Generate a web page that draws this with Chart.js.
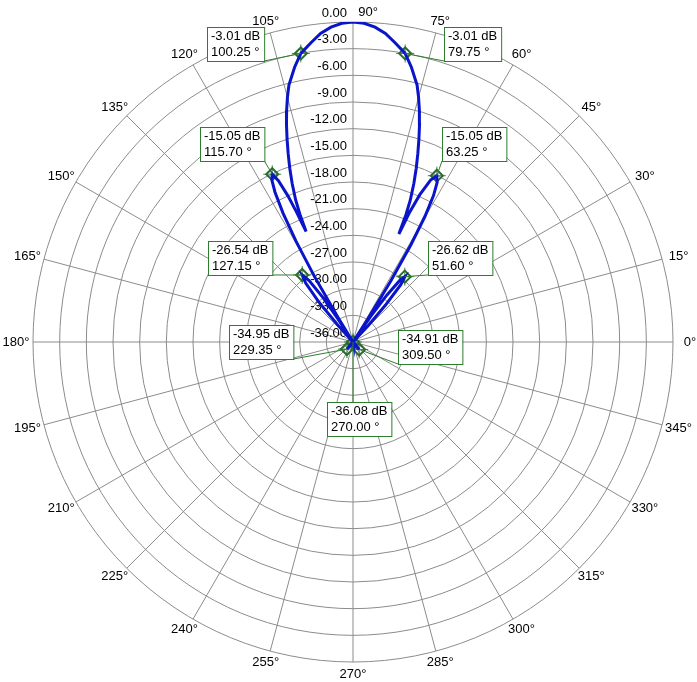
<!DOCTYPE html>
<html>
<head>
<meta charset="utf-8">
<script src="https://cdn.jsdelivr.net/npm/chart.js@4.4.1/dist/chart.umd.min.js"></script>
<style>
    body { margin: 0; background: #fff; }
    #wrap { width: 697px; height: 682px; position: relative; }
</style>
</head>
<body>
<div id="wrap"><canvas id="polar"></canvas></div>
<script>
// Pattern: angle (deg) and level (dB)
const patternAngles = [46, 47.2, 48.6, 50.2, 51.6, 52.8, 54.2, 55.4, 56.6, 57.2, 58.2, 59.2, 60.2, 61.2, 62.2, 63.25, 64.4, 65.6, 66.4, 67, 67.4, 68, 69, 70, 71, 72, 73, 74, 75, 76, 78, 79.75, 82, 84, 86, 88,
    90, 92, 94, 96, 98, 100.25, 102, 104, 105, 106, 107, 108, 109, 110, 111, 112, 112.6, 113, 113.5, 114, 114.8, 115.7, 116.6, 117.5, 118.5, 119.5, 120.5, 121.5, 122, 123, 124, 125.5, 127.15, 128.8, 130.5, 132, 133,
    150, 210, 222, 229.35, 236, 250, 270, 290, 302, 309.5, 317, 330, 406];
const patternDb = [-36, -33.5, -30.5, -27.6, -26.62, -27.3, -29.5, -32.5, -36, -33, -28, -23.3, -19.7, -17.2, -15.7, -15.05, -15.8, -17.8, -20, -22.8, -20.5, -18.8, -16.9, -15.2, -13.6, -12.0, -10.4, -8.9, -7.5, -6.2, -4.4, -3.01, -2.0, -1.1, -0.5, -0.12,
    0, -0.12, -0.5, -1.1, -2.0, -3.01, -4.4, -6.2, -7.5, -8.9, -10.4, -12.0, -13.6, -15.2, -16.9, -18.8, -20.5, -22.5, -20.0, -18.0, -16.0, -15.05, -15.6, -17.0, -19.5, -23, -27.5, -33, -36, -33, -30, -27.5, -26.54, -27.5, -30, -33.5, -36,
    -36, -36, -35.8, -34.95, -35.8, -36, -36.08, -36, -35.8, -34.91, -35.8, -36, -36];

// Markers
const markerAngles = [100.25, 79.75, 115.70, 63.25, 127.15, 51.60, 229.35, 309.50, 270.00];
const markerDb = [-3.01, -3.01, -15.05, -15.05, -26.54, -26.62, -34.95, -34.91, -36.08];
// where each marker's label box sits (top-left, px)
const boxPos = [[207, 27], [444, 27], [200, 127], [442, 127], [208, 241], [428, 241], [229, 325], [398, 330], [327, 402]];

const ringLabels = ['0.00', '-3.00', '-6.00', '-9.00', '-12.00', '-15.00', '-18.00', '-21.00', '-24.00', '-27.00', '-30.00', '-33.00', '-36.00'];
const angleTicks = [0, 15, 30, 45, 60, 75, 90, 105, 120, 135, 150, 165, 180, 195, 210, 225, 240, 255, 270, 285, 300, 315, 330, 345];

const FLOOR = -36;
const FONT = '13px "Liberation Sans", Arial, sans-serif';

function toXY(ang, db) {
    const r = Math.max(0, db - FLOOR);
    const a = ang * Math.PI / 180;
    return { x: r * Math.cos(a), y: r * Math.sin(a) };
}

const patternPts = patternAngles.map((a, i) => toXY(a, patternDb[i]));
const markerPts = markerAngles.map((a, i) => toXY(a, markerDb[i]));

// grid, ring labels and angle labels
const polarGrid = {
    id: 'polarGrid',
    beforeDatasetsDraw(chart) {
        const ctx = chart.ctx;
        const sx = chart.scales.x, sy = chart.scales.y;
        const cx = sx.getPixelForValue(0), cy = sy.getPixelForValue(0);
        const R = sx.getPixelForValue(36) - cx;
        ctx.save();
        ctx.strokeStyle = '#8c8c8c';
        ctx.lineWidth = 1;
        for (let k = 1; k <= 12; k++) {
            ctx.beginPath();
            ctx.arc(cx, cy, R * k / 12, 0, Math.PI * 2);
            ctx.stroke();
        }
        angleTicks.forEach(t => {
            const a = t * Math.PI / 180;
            ctx.beginPath();
            ctx.moveTo(cx, cy);
            ctx.lineTo(cx + R * Math.cos(a), cy - R * Math.sin(a));
            ctx.stroke();
        });
        ctx.fillStyle = '#000';
        ctx.font = FONT;
        ctx.textAlign = 'right';
        ctx.textBaseline = 'middle';
        ringLabels.forEach((lab, k) => {
            const r = R * (12 - k) / 12;
            ctx.fillText(lab, cx - 6, cy - r - 9);
        });
        angleTicks.forEach(t => {
            const a = t * Math.PI / 180;
            let x = cx + (R + 17) * Math.cos(a), y = cy - (R + 12) * Math.sin(a);
            ctx.textAlign = 'center';
            if (t === 90) { x = cx + 15; y = cy - R - 10; }
            ctx.fillText(t + '°', x, y);
        });
        ctx.restore();
    },
    afterDatasetsDraw(chart) {
        const ctx = chart.ctx;
        const sx = chart.scales.x, sy = chart.scales.y;
        ctx.save();
        ctx.font = FONT;
        ctx.textBaseline = 'middle';
        ctx.textAlign = 'left';
        markerPts.forEach((p, i) => {
            const px = sx.getPixelForValue(p.x), py = sy.getPixelForValue(p.y);
            const l1 = markerDb[i].toFixed(2) + ' dB';
            const l2 = markerAngles[i].toFixed(2) + ' °';
            const w = Math.max(ctx.measureText(l1).width, ctx.measureText(l2).width) + 8;
            const h = 34;
            const bx = boxPos[i][0], by = boxPos[i][1];
            // leader to nearest box edge
            const tx = px < bx ? bx : (px > bx + w ? bx + w : px);
            const ty = by + h;
            ctx.strokeStyle = '#2e7d2e';
            ctx.lineWidth = 1;
            ctx.beginPath();
            ctx.moveTo(px, py);
            ctx.lineTo(tx, ty);
            ctx.stroke();
            ctx.fillStyle = '#fff';
            ctx.fillRect(bx, by, w, h);
            ctx.strokeRect(bx + 0.5, by + 0.5, w, h);
            ctx.fillStyle = '#000';
            ctx.fillText(l1, bx + 4, by + 9);
            ctx.fillText(l2, bx + 4, by + 25);
        });
        ctx.restore();
    }
};

new Chart(document.getElementById('polar'), {
    type: 'scatter',
    data: {
        datasets: [
            {
                data: patternPts,
                showLine: true,
                borderColor: '#0a14c8',
                borderWidth: 3,
                pointRadius: 0,
                tension: 0
            },
            {
                data: markerPts,
                pointStyle: 'rectRot',
                pointRadius: 6,
                pointBorderColor: '#2e6b2e',
                pointBackgroundColor: 'rgba(0,0,0,0)',
                pointBorderWidth: 2
            },
            {
                data: markerPts,
                pointStyle: 'cross',
                pointRadius: 9,
                pointBorderColor: '#3d8a3d',
                pointBorderWidth: 1
            }
        ]
    },
    options: {
        responsive: true,
        maintainAspectRatio: false,
        animation: false,
        layout: { padding: { left: 33, right: 24, top: 22, bottom: 20 } },
        scales: {
            x: { type: 'linear', min: -36, max: 36, display: false },
            y: { type: 'linear', min: -36, max: 36, display: false }
        },
        plugins: { legend: { display: false }, tooltip: { enabled: false } }
    },
    plugins: [polarGrid]
});
</script>
</body>
</html>
